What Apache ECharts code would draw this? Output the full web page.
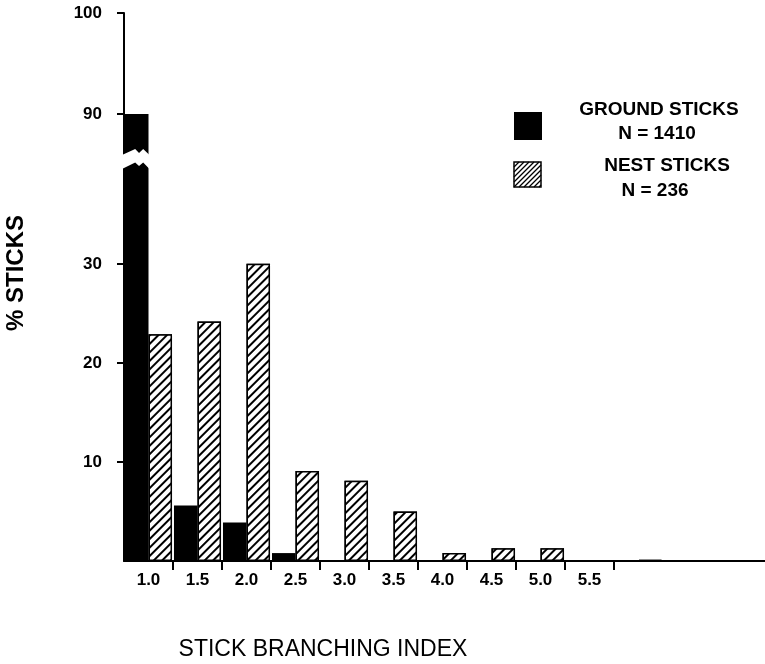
<!DOCTYPE html>
<html>
<head>
<meta charset="utf-8">
<script src="https://cdn.jsdelivr.net/npm/echarts@6/dist/echarts.min.js"></script>
<style>
  html, body { margin: 0; padding: 0; background: #fff; }
  #chart { width: 765px; height: 664px; }
</style>
</head>
<body>
<div id="chart"></div>
<script>
// stick branching index classes (only the first 10 are labelled)
const categories = ['1.0', '1.5', '2.0', '2.5', '3.0', '3.5', '4.0', '4.5', '5.0', '5.5', '6.0', '6.5', '7.0', '7.5']
const labelledCount = 10
// % sticks
const groundSticks = [90, 5.6, 3.9, 0.8, 0, 0, 0, 0, 0, 0, 0, 0, 0, 0]
const nestSticks = [22.9, 24.2, 30.1, 9.1, 8.1, 5.0, 0.8, 1.3, 1.3, 0, 0.1, 0, 0, 0]
const yTicks = [10, 20, 30, 90, 100]
// where the tall ground bar is broken: [category index, % value]
const barBreaks = [[0, 72]]

// broken y scale: 0-30 linear, 30-90 squeezed, 90-100 linear again
function toAxis(v) {
  if (v <= 30) return v
  if (v <= 90) return 30 + (v - 30) * (15.15 / 60)
  return 45.15 + (v - 90) * 1.02
}

const FONT = '"Liberation Sans", Arial, sans-serif'

const chart = echarts.init(document.getElementById('chart'), null, { renderer: 'canvas' })

// hatch lines for the legend swatch
function hatchLines(x, y, w, h, step) {
  const out = []
  for (let d = step; d < w + h; d += step) {
    let x1 = x + d - h, y1 = y + h
    let x2 = x + d, y2 = y
    if (x1 < x) { y1 = y + h - (x - x1); x1 = x }
    if (x2 > x + w) { y2 = y + (x2 - (x + w)); x2 = x + w }
    out.push({
      type: 'line',
      shape: { x1: x1, y1: y1, x2: x2, y2: y2 },
      style: { stroke: '#000', lineWidth: 1.2 }
    })
  }
  return out
}

const hatchDecal = {
  symbol: 'rect',
  symbolSize: 1,
  color: '#000',
  backgroundColor: '#fff',
  dashArrayX: [1, 0],
  dashArrayY: [1.2, 3.6],
  rotation: -Math.PI / 4
}

chart.setOption({
  animation: false,
  backgroundColor: '#fff',
  grid: {
    left: 124,
    right: -45,
    top: 13,
    bottom: 103,
    outerBoundsMode: 'none',
    containLabel: false
  },
  xAxis: {
    type: 'category',
    data: categories,
    boundaryGap: true,
    axisLine: { lineStyle: { color: '#000', width: 2 } },
    axisTick: {
      show: true,
      length: 9,
      lineStyle: { color: '#000', width: 2 },
      interval: (i) => i >= 1 && i <= labelledCount
    },
    axisLabel: {
      interval: (i) => i < labelledCount,
      color: '#000',
      fontFamily: FONT,
      fontWeight: 'bold',
      fontSize: 17,
      margin: 11
    },
    splitLine: { show: false }
  },
  yAxis: {
    type: 'value',
    min: 0,
    max: toAxis(100),
    axisLine: { show: true, lineStyle: { color: '#000', width: 2 } },
    axisTick: {
      show: true,
      length: 7,
      lineStyle: { color: '#000', width: 2 },
      customValues: yTicks.map(toAxis)
    },
    axisLabel: {
      color: '#000',
      fontFamily: FONT,
      fontWeight: 'bold',
      fontSize: 17,
      margin: 22,
      customValues: yTicks.map(toAxis),
      formatter: (val) => {
        const t = yTicks.find(t => Math.abs(toAxis(t) - val) < 1e-6)
        return t === undefined ? '' : String(t)
      }
    },
    splitLine: { show: false }
  },
  series: [
    {
      name: 'GROUND STICKS',
      type: 'bar',
      data: groundSticks.map(toAxis),
      barGap: '0%',
      barCategoryGap: '4%',
      itemStyle: { color: '#000' }
    },
    {
      name: 'NEST STICKS',
      type: 'bar',
      data: nestSticks.map(toAxis),
      barGap: '0%',
      barCategoryGap: '4%',
      itemStyle: {
        color: '#fff',
        borderColor: '#000',
        borderWidth: 1.5,
        decal: hatchDecal
      }
    },
    {
      // zig-zag gap cut into the broken bar
      type: 'custom',
      clip: false,
      z: 5,
      data: barBreaks.map(([i, v]) => [i, toAxis(v)]),
      renderItem: (params, api) => {
        const c = api.coord([api.value(0), api.value(1)])
        const bw = api.size([1, 0])[0]
        const l = c[0] - bw * 0.48 - 3
        const r = c[0] + 1
        const w = r - l
        const fx = [0, 0.48, 0.62, 0.77, 1]
        const up = [-4, -10, -6, -10, -4]
        const lo = [10, 3.5, 7, 3.5, 10]
        const pts = []
        fx.forEach((f, k) => pts.push([l + f * w, c[1] + up[k]]))
        for (let k = fx.length - 1; k >= 0; k--) pts.push([l + fx[k] * w, c[1] + lo[k]])
        return {
          type: 'polygon',
          shape: { points: pts },
          style: { fill: '#fff', stroke: null }
        }
      }
    }
  ],
  graphic: [
    {
      type: 'text',
      x: 16,
      y: 273,
      rotation: Math.PI / 2,
      style: {
        text: '% STICKS',
        textAlign: 'center',
        textVerticalAlign: 'middle',
        font: 'bold 24px ' + FONT,
        fill: '#000'
      }
    },
    {
      type: 'text',
      x: 323,
      y: 650,
      style: {
        text: 'STICK BRANCHING INDEX',
        textAlign: 'center',
        textVerticalAlign: 'middle',
        font: '23px ' + FONT,
        fill: '#000'
      }
    },
    {
      type: 'rect',
      shape: { x: 514, y: 112, width: 28, height: 28 },
      style: { fill: '#000' }
    },
    {
      type: 'group',
      children: hatchLines(514, 162, 27, 25, 5).concat([{
        type: 'rect',
        shape: { x: 514, y: 162, width: 27, height: 25 },
        style: { fill: null, stroke: '#000', lineWidth: 1.5 }
      }])
    },
    {
      type: 'text', x: 659, y: 110,
      style: { text: 'GROUND STICKS', textAlign: 'center', textVerticalAlign: 'middle', font: 'bold 19px ' + FONT, fill: '#000' }
    },
    {
      type: 'text', x: 657, y: 134,
      style: { text: 'N = 1410', textAlign: 'center', textVerticalAlign: 'middle', font: 'bold 19px ' + FONT, fill: '#000' }
    },
    {
      type: 'text', x: 667, y: 166,
      style: { text: 'NEST STICKS', textAlign: 'center', textVerticalAlign: 'middle', font: 'bold 19px ' + FONT, fill: '#000' }
    },
    {
      type: 'text', x: 655, y: 191,
      style: { text: 'N = 236', textAlign: 'center', textVerticalAlign: 'middle', font: 'bold 19px ' + FONT, fill: '#000' }
    }
  ]
})
</script>
</body>
</html>
